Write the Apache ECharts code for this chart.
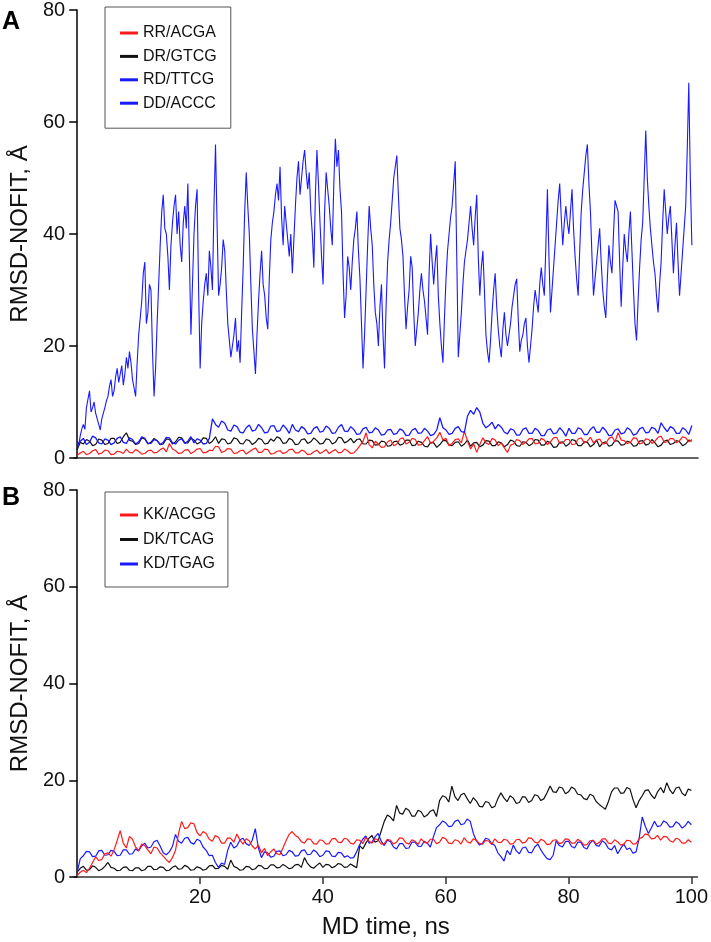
<!DOCTYPE html>
<html>
<head>
<meta charset="utf-8">
<script src="https://cdn.jsdelivr.net/npm/echarts@6/dist/echarts.min.js"></script>
<style>
html,body{margin:0;padding:0;background:#fff;}
#chart{width:711px;height:942px;}
</style>
</head>
<body>
<div id="chart"></div>
<script>
// ---------- DATA ----------
const xTickLabels = [20, 40, 60, 80, 100];
const STEP_LOW = 0.5;   // ns between samples of the low series
const STEP_DD = 0.25;   // ns between samples of DD/ACCC

// Panel A
const RR_ACGA = [
  0.5,0.9, 1.2,0.6, 0.8,1.3, 1.5,0.7, 0.9,1.4,
  1.3,0.6, 0.7,1.2, 1.1,0.8, 1.6,1.0, 0.9,1.5,
  1.2,0.7, 0.8,1.3, 1.4,0.9, 1.0,1.5, 1.8,1.1,
  2.6,1.6, 1.3,0.8, 0.9,1.4, 1.5,0.8, 1.1,1.6,
  1.7,0.9, 1.0,1.4, 1.3,2.1, 2.0,1.0, 1.2,1.7,
  1.6,0.8, 0.9,1.3, 1.4,0.7, 1.1,1.5, 1.8,1.0,
  1.0,1.6, 1.5,0.7, 0.8,1.2, 1.3,0.8, 1.0,1.5,
  1.6,0.9, 0.9,1.4, 1.2,0.6, 0.7,1.1, 1.4,0.8,
  1.1,1.5, 0.8,1.2, 1.5,0.9, 1.0,1.6, 1.3,0.8,
  0.9,1.5, 2.2,3.0, 4.5,2.4, 1.8,3.0, 2.5,1.9,
  2.0,2.9, 3.2,2.2, 2.5,3.4, 3.6,2.5, 2.8,3.5,
  3.3,2.3, 2.4,3.1, 3.8,2.6, 3.0,3.6, 4.6,3.2,
  3.5,2.2, 2.6,3.3, 3.4,2.7, 4.8,3.0, 1.6,2.5,
  1.0,2.4, 3.6,2.7, 2.4,3.5, 3.2,2.2, 2.7,1.8,
  1.0,2.3, 2.5,3.3, 3.1,2.4, 2.8,3.4, 3.5,2.5,
  2.6,3.5, 3.2,2.4, 2.9,3.6, 3.7,2.6, 2.7,3.3,
  3.3,2.4, 2.5,3.4, 3.6,2.7, 3.0,3.7, 2.7,3.2,
  3.4,2.5, 2.6,3.5, 3.8,2.9, 4.5,3.2, 3.1,2.6,
  2.8,3.6, 3.5,2.5, 2.7,3.4, 3.3,2.6, 3.0,3.7,
  3.9,2.8, 2.9,3.5, 3.4,2.7, 3.1,3.8, 3.6,2.9,
  3.3
];
const DR_GTCG = [
  1.5,2.8, 2.5,3.3, 3.0,2.2, 2.4,3.4, 3.2,2.4,
  2.6,3.5, 3.5,2.6, 2.8,3.8, 4.5,3.2, 3.0,2.4,
  2.6,3.6, 3.4,2.5, 2.8,3.5, 3.1,2.4, 2.5,3.4,
  3.3,2.5, 2.9,3.7, 3.6,2.7, 2.7,3.5, 3.2,2.5,
  2.8,3.6, 3.5,2.6, 3.0,3.8, 2.6,3.4, 3.3,2.5,
  2.7,3.6, 3.4,2.6, 2.5,3.3, 3.1,2.4, 2.8,3.5,
  3.3,2.5, 2.6,3.4, 3.0,3.8, 3.5,2.6, 2.7,3.5,
  3.2,2.4, 2.5,3.3, 3.4,2.6, 2.9,3.6, 3.1,2.5,
  2.6,3.4, 3.3,2.5, 2.8,3.7, 3.6,2.7, 3.0,3.5,
  2.7,3.3, 3.4,2.5, 2.5,3.2, 3.1,2.3, 2.4,3.0,
  2.9,2.1, 2.2,2.9, 3.0,2.3, 2.5,3.2, 3.2,2.2,
  2.3,3.0, 2.8,2.1, 2.0,2.8, 2.7,1.9, 2.4,3.1,
  3.1,2.3, 2.2,2.8, 2.9,2.1, 2.5,3.2, 2.1,2.7,
  2.8,2.0, 2.3,3.1, 3.0,2.2, 2.2,2.9, 2.7,2.0,
  2.4,3.2, 3.0,2.2, 2.1,2.9, 2.8,2.2, 2.5,3.3,
  3.2,2.3, 2.3,3.0, 2.7,1.9, 2.0,2.8, 2.9,2.1,
  2.5,3.3, 3.1,2.2, 2.2,2.9, 2.8,2.0, 2.4,3.2,
  2.0,2.7, 2.9,2.1, 2.3,3.1, 3.0,2.3, 2.4,3.0,
  2.8,2.1, 2.2,3.0, 3.1,2.3, 2.5,3.3, 2.7,2.0,
  2.3,3.0, 3.2,2.4, 2.6,3.1, 2.9,2.2, 2.5,3.2,
  3.0
];
const RD_TTCG = [
  2.0,3.0, 3.5,2.4, 2.8,3.9, 3.6,2.7, 2.5,3.4,
  3.2,2.4, 2.7,3.5, 3.8,2.8, 2.6,3.6, 3.3,2.5,
  2.9,3.8, 3.5,2.6, 2.6,3.3, 3.1,2.4, 2.8,3.7,
  3.6,2.7, 2.5,3.2, 3.4,2.6, 3.0,3.8, 2.7,3.4,
  3.2,2.5, 2.6,3.5, 7.0,6.0, 5.5,6.6, 6.2,5.0,
  4.8,5.9, 5.6,4.6, 4.5,5.4, 5.9,4.8, 5.0,6.0,
  5.4,4.5, 4.6,5.7, 5.8,4.7, 4.9,5.9, 5.3,4.4,
  6.0,5.0, 4.7,5.6, 5.2,4.3, 4.4,5.3, 5.6,4.6,
  4.8,5.7, 5.3,4.4, 4.5,5.5, 6.0,4.8, 4.7,5.6,
  5.1,4.2, 4.3,5.2, 5.5,4.5, 4.6,5.4, 5.0,4.1,
  4.2,5.0, 5.1,4.2, 4.4,5.2, 4.9,4.0, 4.1,5.0,
  5.3,4.4, 4.5,5.3, 4.8,4.0, 4.2,5.0, 7.2,5.4,
  5.0,4.2, 4.4,5.3, 5.6,4.7, 4.6,7.5, 8.5,7.8,
  9.0,8.2, 6.2,5.4, 5.8,6.4, 5.2,6.0, 5.5,4.6,
  4.3,5.2, 5.0,4.1, 4.1,5.1, 5.4,4.4, 4.4,5.3,
  4.9,4.0, 4.0,5.0, 5.2,4.3, 4.5,5.4, 4.8,3.9,
  5.3,4.4, 4.4,5.4, 5.1,4.2, 4.2,5.1, 5.6,4.6,
  4.6,5.5, 4.9,4.0, 4.1,5.0, 5.2,4.3, 4.5,5.4,
  5.0,4.1, 4.3,5.2, 5.5,4.5, 4.6,5.5, 5.2,4.4,
  6.3,5.4, 4.7,5.6, 5.3,4.4, 4.4,5.4, 5.0,4.2,
  5.8
];
const DD_ACCC = [
  3,2.4, 4,5.2, 6,5.1, 9,10.5, 12,8.2, 9,10, 8,7, 6,5, 7,8, 9,10.2,
  11,12.8, 14,11, 12,14.5, 16,13.5, 15,16.5, 13,15, 18,16, 19,17, 14,12.5, 11,17,
  22,25, 28,33, 35,24, 26,31, 30,19, 11,16, 24,31, 38,44, 47,41, 40,36,
  30,38, 42,45, 47,40, 44,38, 35,42, 45,41, 49,36, 22,31, 40,45, 48,30,
  16,24, 28,31, 33,29, 37,34, 30,45, 56,42, 29,31, 34,39, 37,30, 24,21,
  18,20, 22,25, 19,21, 17,26, 34,44, 51,45, 40,31, 23,19, 15,22, 28,33,
  37,31, 29,25, 23,32, 39,42, 44,47, 49,46, 52,43, 38,45, 42,39, 36,40,
  33,39, 45,50, 53,47, 50,53, 55,51, 48,51, 44,40, 34,47, 55,49, 42,36,
  31,44, 51,48, 45,41, 38,49, 57,52, 55,48, 44,33, 25,29, 36,34, 30,35,
  39,41, 44,37, 32,24, 16,22, 30,38, 45,41, 38,31, 26,24, 20,27, 31,22,
  16,27, 35,39, 42,46, 50,52, 54,47, 41,39, 36,29, 23,27, 30,36, 34,26,
  20,23, 26,30, 33,30, 28,25, 22,33, 40,35, 31,35, 38,29, 24,20, 17,25,
  32,37, 40,43, 45,49, 53,36, 18,22, 26,31, 35,37, 39,42, 45,41, 38,43,
  47,36, 29,34, 37,30, 22,19, 17,21, 26,30, 33,27, 23,20, 18,23, 26,22,
  20,22, 24,27, 29,31, 32,25, 19,21, 22,24, 25,20, 17,20, 23,27, 30,28,
  26,31, 34,31, 29,38, 48,36, 26,30, 34,38, 42,46, 49,43, 38,42, 45,42,
  40,44, 48,41, 36,32, 29,37, 44,48, 51,54, 56,49, 44,36, 29,32, 35,38,
  41,35, 30,27, 25,32, 38,35, 33,40, 46,45, 44,35, 27,34, 40,37, 35,40,
  44,37, 30,24, 21,28, 34,39, 42,50, 58.5,50, 45,41, 38,35, 33,29, 26,31,
  35,42, 48,44, 40,43, 45,39, 33,38, 42,35, 29,33, 37,41, 45,55, 67,50,
  38
];

// Panel B
const KK_ACGG = [
  0.3,1.0, 1.4,0.9, 1.8,3.0, 4.2,3.4, 3.6,4.8,
  5.0,4.3, 5.6,7.5, 9.6,7.0, 6.0,8.4, 7.8,6.2,
  5.5,6.8, 6.5,5.6, 4.8,6.2, 6.0,5.0, 4.3,3.6,
  3.0,4.0, 5.5,9.0, 11.5,10.0, 10.2,11.2, 11.0,9.2,
  8.5,9.4, 9.0,7.8, 7.4,8.6, 8.2,7.0, 7.0,8.1,
  8.0,7.2, 8.9,7.6, 6.8,7.9, 7.5,6.4, 5.8,6.6,
  5.0,5.9, 4.4,5.2, 5.8,4.8, 4.6,6.0, 7.5,8.8,
  9.4,8.6, 8.2,7.3, 7.0,7.9, 7.8,6.9, 6.8,7.7,
  7.5,6.8, 6.9,7.9, 8.0,7.2, 7.1,8.0, 7.8,7.0,
  6.8,7.7, 7.6,6.9, 8.2,7.4, 7.0,7.9, 7.7,6.8,
  6.9,7.8, 7.6,6.8, 7.2,8.1, 8.0,7.1, 6.8,7.7,
  7.4,6.7, 7.9,7.2, 7.0,7.8, 7.8,6.9, 7.2,8.2,
  7.9,7.0, 6.9,7.7, 7.5,6.8, 8.1,7.3, 7.0,7.9,
  7.6,6.9, 6.8,7.6, 7.4,6.7, 7.9,7.2, 7.1,7.8,
  7.6,6.8, 6.9,7.7, 7.8,7.0, 7.2,8.1, 8.0,7.2,
  7.0,7.8, 7.5,6.7, 6.8,7.6, 7.7,6.9, 7.1,7.9,
  7.8,7.0, 7.0,7.8, 7.4,6.6, 6.7,7.5, 7.6,6.8,
  7.1,7.9, 7.9,7.0, 6.9,7.7, 7.3,6.6, 6.8,7.6,
  7.5,6.8, 6.9,7.9, 8.2,8.9, 8.7,7.9, 8.0,8.6,
  7.6,8.4, 8.3,7.5, 7.2,8.0, 7.8,7.0, 7.0,7.7,
  7.2
];
const DK_TCAG = [
  1.0,1.8, 2.2,1.4, 1.5,2.3, 2.0,1.3, 1.6,2.2,
  3.0,2.0, 1.8,1.3, 1.4,2.0, 2.1,1.4, 1.3,1.9,
  1.9,1.3, 1.5,2.2, 2.2,1.5, 1.6,2.1, 2.0,1.3,
  1.4,2.0, 2.3,1.6, 1.7,2.4, 2.1,1.4, 1.5,2.1,
  1.9,1.4, 1.6,2.3, 2.4,1.7, 1.8,2.4, 2.2,1.6,
  3.5,2.2, 1.9,1.4, 1.5,2.2, 2.1,1.5, 1.7,2.4,
  2.3,1.7, 1.8,2.5, 2.5,1.9, 2.0,2.6, 2.2,1.7,
  1.9,2.5, 2.6,2.0, 4.0,2.8, 2.1,1.8, 2.4,2.9,
  2.0,2.6, 2.5,1.9, 2.2,2.8, 2.6,2.0, 2.1,2.7,
  2.3,1.9, 6.5,5.8, 7.0,8.0, 8.6,7.2, 7.5,9.5,
  11.5,12.8, 12.4,11.6, 14.8,13.2, 13.0,14.2, 13.8,12.6,
  12.6,13.8, 13.5,12.4, 12.8,13.6, 13.9,12.5, 15.8,16.8,
  16.5,15.5, 18.8,16.6, 15.8,17.0, 17.3,16.2, 15.2,16.4,
  15.7,14.6, 14.5,15.6, 15.4,14.3, 14.6,16.2, 17.4,16.3,
  15.6,16.8, 16.3,15.2, 15.4,16.6, 16.5,15.4, 15.8,17.0,
  16.8,15.8, 16.2,17.4, 18.8,17.6, 17.5,18.6, 18.4,17.2,
  17.6,18.6, 18.2,17.1, 17.0,16.2, 16.0,17.1, 16.8,15.6,
  15.0,14.5, 14.0,15.6, 17.6,18.4, 18.4,17.3, 17.4,18.5,
  18.2,16.0, 14.3,15.8, 16.8,17.9, 18.0,16.9, 16.2,17.6,
  18.5,17.4, 19.5,18.0, 17.2,18.4, 18.6,17.3, 16.8,18.2,
  17.9
];
const KD_TGAG = [
  1.0,3.8, 4.4,5.3, 5.2,4.2, 4.3,5.4, 5.5,4.5,
  4.6,5.5, 5.3,4.4, 4.5,5.6, 5.6,4.7, 4.8,5.8,
  5.4,6.4, 7.0,6.0, 6.2,7.3, 7.6,6.4, 5.0,4.6,
  5.2,6.3, 8.8,7.4, 7.0,8.0, 8.2,7.1, 6.8,7.8,
  7.5,6.2, 5.5,4.4, 4.5,3.0, 2.0,2.9, 2.6,5.5,
  7.2,6.0, 6.4,7.7, 8.0,6.9, 6.5,7.6, 10.0,6.0,
  4.0,5.2, 5.0,4.1, 4.3,5.3, 5.4,4.4, 4.6,5.5,
  5.2,4.3, 4.4,5.4, 5.6,4.6, 4.7,5.6, 5.1,4.2,
  4.5,5.4, 5.3,4.3, 4.2,5.1, 5.0,4.1, 4.4,3.9,
  4.0,5.2, 6.7,7.8, 8.5,7.0, 7.2,8.3, 9.0,7.4,
  6.5,7.6, 7.3,6.2, 5.8,6.9, 6.9,5.9, 6.0,7.2,
  7.2,6.4, 6.3,7.4, 7.0,6.2, 8.3,10.2, 10.8,11.6,
  11.2,10.4, 10.5,11.5, 11.8,10.8, 11.0,12.0, 11.5,9.0,
  7.5,6.6, 7.0,8.0, 7.8,6.9, 6.5,5.0, 4.2,3.3,
  5.5,4.6, 6.6,5.4, 4.8,6.0, 6.2,5.1, 5.0,6.2,
  6.8,5.6, 4.6,3.8, 3.6,4.5, 7.5,6.5, 6.2,7.3,
  7.4,6.3, 6.0,7.2, 7.2,6.1, 5.8,7.0, 7.6,6.5,
  6.4,7.5, 7.0,5.9, 5.6,6.5, 4.8,5.9, 6.8,5.7,
  6.0,4.9, 5.2,8.0, 12.4,10.5, 9.0,10.2, 11.5,10.4,
  10.6,11.6, 11.2,10.3, 10.4,11.4, 11.0,10.1, 10.6,11.5,
  10.8
];

// ---------- CHART ----------
const FONT = '"Liberation Sans", Arial, Helvetica, sans-serif';
const RED = '#ff1a1a', BLACK = '#111111', BLUE = '#1a1aff';
const toPairs = (vals, step) => vals.map((v, i) => [i * step, v]);

function lineSeries(name, vals, step, color, idx, width) {
  return {
    name, type: 'line', xAxisIndex: idx, yAxisIndex: idx,
    data: toPairs(vals, step), showSymbol: false, symbol: 'none',
    lineStyle: { color, width: width || 1.2 }, itemStyle: { color },
    animation: false, silent: true
  };
}

function yAxisDef(idx) {
  return {
    gridIndex: idx, type: 'value', min: 0, max: 80, interval: 20,
    name: 'RMSD-NOFIT, Å', nameLocation: 'middle', nameGap: 39,
    nameTextStyle: { fontFamily: FONT, fontSize: 24, color: '#111' },
    axisLine: { show: true, lineStyle: { color: '#000', width: 1.5 } },
    axisTick: { show: true, length: 8, lineStyle: { color: '#000', width: 1.5 } },
    axisLabel: { fontFamily: FONT, fontSize: 20, color: '#111', margin: 9 },
    splitLine: { show: false }
  };
}

const legendCommon = {
  orient: 'vertical', left: 105, icon: 'rect', itemWidth: 18, itemHeight: 3,
  borderColor: '#555', borderWidth: 1, backgroundColor: '#fff',
  textStyle: { fontFamily: FONT, fontSize: 16, color: '#111', lineHeight: 16 },
  selectedMode: false
};

const option = {
  backgroundColor: '#fff',
  animation: false,
  title: [
    { text: 'A', left: 2, top: 10, padding: 0,
      textStyle: { fontFamily: FONT, fontSize: 25, fontWeight: 'bold', color: '#000' } },
    { text: 'B', left: 2, top: 486, padding: 0,
      textStyle: { fontFamily: FONT, fontSize: 25, fontWeight: 'bold', color: '#000' } }
  ],
  legend: [
    Object.assign({}, legendCommon, {
      top: 7, padding: [18, 14, 17, 15], itemGap: 7.4,
      data: ['RR/ACGA', 'DR/GTCG', 'RD/TTCG', 'DD/ACCC']
    }),
    Object.assign({}, legendCommon, {
      top: 492, padding: [15, 12, 15, 15], itemGap: 8.5,
      data: ['KK/ACGG', 'DK/TCAG', 'KD/TGAG']
    })
  ],
  grid: [
    { left: 71, top: 10, width: 627, height: 448, containLabel: false },
    { left: 71, top: 490, width: 627, height: 387, containLabel: false }
  ],
  xAxis: [
    { gridIndex: 0, type: 'value', min: -0.5, max: 101,
      axisLine: { show: true, lineStyle: { color: '#333', width: 1.5 } },
      axisTick: { show: false }, axisLabel: { show: false }, splitLine: { show: false } },
    { gridIndex: 1, type: 'value', min: -0.5, max: 101,
      name: 'MD time, ns', nameLocation: 'middle', nameGap: 38,
      nameTextStyle: { fontFamily: FONT, fontSize: 24, color: '#111' },
      axisLine: { show: true, lineStyle: { color: '#333', width: 1.5 } },
      axisTick: { show: true, length: 7, customValues: xTickLabels,
        lineStyle: { color: '#333', width: 1.5 } },
      axisLabel: { show: true, customValues: xTickLabels, fontFamily: FONT,
        fontSize: 20, color: '#111', margin: 10 },
      splitLine: { show: false } }
  ],
  yAxis: [yAxisDef(0), yAxisDef(1)],
  series: [
    lineSeries('DD/ACCC', DD_ACCC, STEP_DD, BLUE, 0, 1.1),
    lineSeries('DR/GTCG', DR_GTCG, STEP_LOW, BLACK, 0),
    lineSeries('RR/ACGA', RR_ACGA, STEP_LOW, RED, 0),
    lineSeries('RD/TTCG', RD_TTCG, STEP_LOW, BLUE, 0, 1.3),
    lineSeries('DK/TCAG', DK_TCAG, STEP_LOW, BLACK, 1),
    lineSeries('KD/TGAG', KD_TGAG, STEP_LOW, BLUE, 1),
    lineSeries('KK/ACGG', KK_ACGG, STEP_LOW, RED, 1)
  ]
};

const chart = echarts.init(document.getElementById('chart'), null, { renderer: 'canvas' });
chart.setOption(option);
</script>
</body>
</html>
